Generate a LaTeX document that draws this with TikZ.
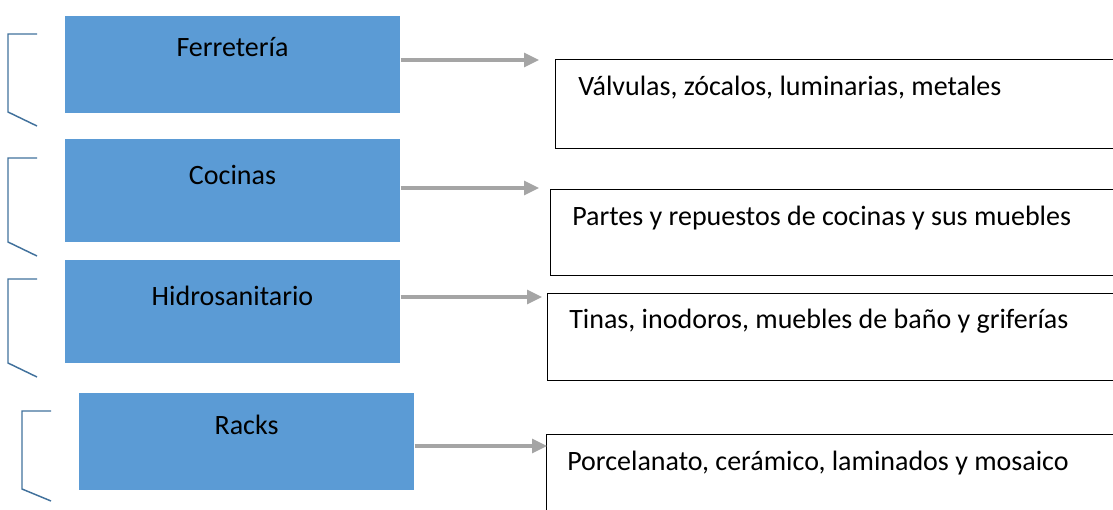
\documentclass[tikz,border=0pt]{standalone}
\usepackage{fontspec}
\setmainfont{Carlito}
\usetikzlibrary{arrows.meta}

\definecolor{catblue}{HTML}{5B9BD5}
\definecolor{brackblue}{HTML}{41719C}
\definecolor{linkgray}{HTML}{A5A5A5}

\begin{document}
\begin{tikzpicture}[
  x=0.75pt, y=-0.75pt,
  category/.style={
    fill=catblue,
    anchor=north west,
    minimum width=251.25pt,
    inner sep=0pt,
  },
  detail/.style={
    draw=black,
    line width=0.8pt,
    anchor=north west,
    minimum width=450pt,
    inner sep=0pt,
  },
  caption/.style={
    anchor=base,
    font=\fontsize{21}{25}\selectfont,
    inner sep=0pt,
  },
  link/.style={
    draw=linkgray,
    line width=2.3pt,
    -{Triangle[length=11.25pt,width=10.5pt]},
  },
  bracket/.style={
    draw=brackblue,
    line width=1.1pt,
  },
]
\clip (0,0) rectangle (1113,510);

% Category boxes
\node[category, minimum height=72.75pt] (ferr) at (65,16) {};
\node[category, minimum height=77.25pt] (coc) at (65,139) {};
\node[category, minimum height=77.25pt] (hidro) at (65,260) {};
\node[category, minimum height=72.75pt] (racks) at (79,393) {};

\node[caption] (ferrt) at (232.5,57) {Ferretería};
\node[caption] (coct) at (232.5,184) {Cocinas};
\node[caption] (hidrot) at (232.5,305) {Hidrosanitario};
\node[caption] (rackst) at (246.5,434) {Racks};

% Detail boxes
\node[detail, minimum height=66.75pt] (ferrd) at (555,59) {};
\node[detail, minimum height=64.5pt] (cocd) at (550,189) {};
\node[detail, minimum height=65.25pt] (hidrod) at (547,293) {};
\node[detail, minimum height=75pt] (racksd) at (546,434) {};

\node[caption, anchor=base west] (ferrdt) at (578,95) {Válvulas, zócalos, luminarias, metales};
\node[caption, anchor=base west] (cocdt) at (572,225) {Partes y repuestos de cocinas y sus muebles};
\node[caption, anchor=base west] (hidrodt) at (569,328) {Tinas, inodoros, muebles de baño y griferías};
\node[caption, anchor=base west] (racksdt) at (567,470) {Porcelanato, cerámico, laminados y mosaico};

% Arrows
\coordinate (ferra) at (539,60);
\coordinate (coca) at (539,188);
\coordinate (hidroa) at (542,297);
\coordinate (racksa) at (547,446);
\draw[link] (ferr.east |- ferra) -- (ferra);
\draw[link] (coc.east |- coca) -- (coca);
\draw[link] (hidro.east |- hidroa) -- (hidroa);
\draw[link] (racks.east |- racksa) -- (racksa);

% Brackets
\foreach \bx/\btop/\bbot/\bend in {8/34/112/126, 8/158/242/256, 8/279/363/377, 22/411/489/501}
  \draw[bracket] (\bx+29,\btop) -- (\bx,\btop) -- (\bx,\bbot) -- (\bx+29,\bend);

\end{tikzpicture}
\end{document}
